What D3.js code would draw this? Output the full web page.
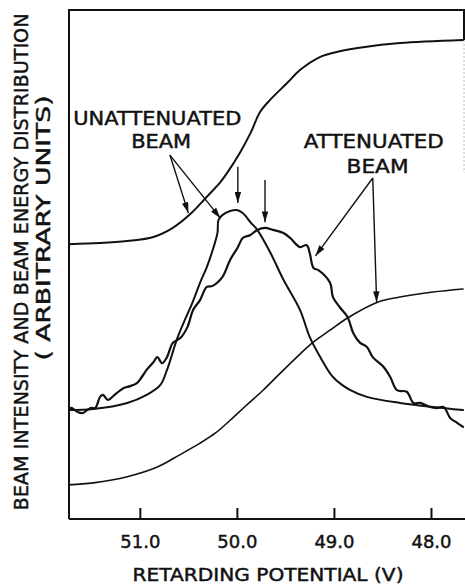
<!DOCTYPE html>
<html>
<head>
<meta charset="utf-8">
<script src="https://cdn.jsdelivr.net/npm/d3@7/dist/d3.min.js"></script>
<style>
  html, body { margin: 0; padding: 0; background: #fff; }
  svg { display: block; }
  text { font-family: "DejaVu Sans", "Liberation Sans", sans-serif; fill: #111; stroke: #111; stroke-width: 0.45px; }
</style>
</head>
<body>
<div id="chart"></div>
<script>
// retarding potential (V) vs. arbitrary units
const xTicks = [51.0, 50.0, 49.0, 48.0];
const xDomain = [51.73, 47.67];
const yDomain = [0, 100];

// integrated beam intensity, unattenuated (upper step)
const unattIntegral = [
  [51.73, 54.0], [51.41, 54.2], [51.13, 54.6], [50.86, 55.4], [50.66, 57.2], [50.48, 59.9],
  [50.31, 63.3], [50.17, 66.2], [50.10, 68.0], [49.97, 71.9], [49.86, 75.8], [49.76, 80.0],
  [49.66, 82.3], [49.48, 85.7], [49.35, 88.2], [49.14, 90.8], [48.94, 91.9], [48.70, 92.7],
  [48.32, 93.5], [47.67, 94.1],
];

// energy distribution, unattenuated (smooth peak)
const unattDist = [
  [51.73, 21.4], [51.48, 21.6], [51.13, 22.8], [50.93, 24.4], [50.79, 26.3], [50.72, 29.3],
  [50.62, 35.2], [50.55, 38.5], [50.46, 42.4], [50.38, 46.4], [50.31, 49.5], [50.25, 52.8],
  [50.20, 56.2], [50.19, 58.7], [50.15, 59.7], [50.07, 60.5], [50.00, 60.7], [49.94, 60.1],
  [49.86, 58.3], [49.79, 56.8], [49.66, 52.5], [49.52, 47.0], [49.35, 41.1], [49.25, 35.8],
  [49.14, 31.8], [49.01, 27.9], [48.83, 25.3], [48.66, 24.0], [48.32, 22.8], [47.98, 22.0],
  [47.67, 21.4],
];

// energy distribution, attenuated (noisy trace)
const attDist = [
  [51.73, 21.8], [51.70, 21.8], [51.64, 21.0], [51.59, 20.8], [51.51, 21.8], [51.46, 21.8],
  [51.41, 24.0], [51.38, 24.4], [51.33, 23.4], [51.26, 24.4], [51.17, 25.7], [51.10, 26.1],
  [51.03, 26.7], [50.98, 27.9], [50.93, 29.3], [50.86, 30.8], [50.82, 31.8], [50.77, 30.6],
  [50.72, 31.8], [50.66, 34.6], [50.58, 35.6], [50.51, 37.7], [50.45, 41.1], [50.38, 43.0],
  [50.31, 45.6], [50.25, 45.8], [50.15, 47.5], [50.07, 50.9], [49.99, 53.4], [49.94, 55.2],
  [49.86, 55.8], [49.79, 56.8], [49.71, 57.2], [49.63, 56.8], [49.52, 56.2], [49.45, 55.2],
  [49.38, 53.8], [49.35, 53.4], [49.28, 53.8], [49.25, 52.3], [49.21, 49.3], [49.16, 48.9],
  [49.04, 46.4], [49.01, 43.6], [48.94, 41.6], [48.86, 39.7], [48.80, 36.5], [48.73, 34.6],
  [48.66, 33.8], [48.60, 31.8], [48.49, 29.9], [48.42, 27.9], [48.35, 25.3], [48.25, 25.0],
  [48.18, 22.8], [48.11, 22.8], [48.01, 22.0], [47.94, 21.8], [47.87, 22.0], [47.80, 19.8],
  [47.73, 18.9], [47.67, 18.1],
];

// integrated beam intensity, attenuated (lower step)
const attIntegral = [
  [51.73, 6.7], [51.48, 7.1], [51.13, 8.3], [50.82, 10.2], [50.59, 12.6], [50.38, 14.9],
  [50.22, 16.9], [50.07, 19.4], [49.91, 22.2], [49.73, 25.3], [49.55, 28.7], [49.35, 32.4],
  [49.21, 34.8], [49.04, 37.1], [48.86, 39.5], [48.55, 42.6], [48.32, 43.6], [47.98, 44.6],
  [47.67, 45.2],
];

// annotation arrows: [fromV, fromY, toV, toY]
const arrows = [
  [50.69, 71.5, 50.50, 60.1],
  [50.69, 71.5, 50.17, 59.1],
  [49.99, 69.2, 49.99, 62.1],
  [49.71, 66.6, 49.71, 58.3],
  [48.60, 67.0, 49.19, 51.7],
  [48.60, 67.0, 48.56, 42.6],
];
// annotation labels: [text, centreV, baselineY, width]
const labels = [
  ['UNATTENUATED', 50.82, 77.4, 168],
  ['BEAM', 50.78, 72.9, 60],
  ['ATTENUATED', 48.59, 72.9, 140],
  ['BEAM', 48.55, 68.0, 62],
];

const W = 465, H = 585;
const plotL = 69, plotR = 463, plotT = 10, plotB = 519;

const svg = d3.select('#chart').append('svg').attr('width', W).attr('height', H);
const x = d3.scaleLinear(xDomain, [plotL, plotR]);
const y = d3.scaleLinear(yDomain, [plotB, plotT]);

svg.append('defs').append('marker')
  .attr('id', 'head').attr('markerUnits', 'userSpaceOnUse')
  .attr('viewBox', '0 0 10 6').attr('refX', 10).attr('refY', 3)
  .attr('markerWidth', 11).attr('markerHeight', 6.5).attr('orient', 'auto')
  .append('path').attr('d', 'M0,0 L10,3 L0,6 Z').attr('fill', '#111');

// frame (right side is cut off in the source, only a stub shows)
const frame = svg.append('g').attr('stroke', '#111').attr('stroke-width', 2).attr('fill', 'none');
frame.append('path').attr('d', `M${plotL},${plotB} V${plotT} H${W}`);
frame.append('path').attr('d', `M${plotR + 1},${plotT} V${y(94.1)}`);
frame.append('path').attr('d', `M${plotR + 1},${y(94.1)} V${y(68)}`).attr('stroke', '#bbb').attr('stroke-width', 1).attr('stroke-dasharray', '2,2');

const xAxis = svg.append('g').attr('transform', `translate(0,${plotB})`)
  .call(d3.axisBottom(x).tickValues(xTicks).tickFormat(d3.format('.1f'))
    .tickSizeInner(-11).tickSizeOuter(0).tickPadding(16));
xAxis.select('.domain').attr('d', `M${plotL},0 H${W}`).attr('stroke', '#111').attr('stroke-width', 2);
xAxis.selectAll('.tick line').attr('stroke', '#111').attr('stroke-width', 2);
xAxis.selectAll('.tick text').attr('font-size', 18).attr('font-family', '"DejaVu Sans", sans-serif').attr('fill', '#111');

const line = d3.line().x((d) => x(d[0])).y((d) => y(d[1])).curve(d3.curveCatmullRom.alpha(0.5));
const curves = svg.append('g').attr('fill', 'none').attr('stroke', '#111')
  .attr('stroke-linejoin', 'round').attr('stroke-linecap', 'round');
curves.append('path').datum(unattIntegral).attr('d', line).attr('stroke-width', 2);
curves.append('path').datum(unattDist).attr('d', line).attr('stroke-width', 2);
curves.append('path').datum(attDist).attr('d', line).attr('stroke-width', 2.2);
curves.append('path').datum(attIntegral).attr('d', line).attr('stroke-width', 1.6);

svg.append('g').selectAll('line').data(arrows).join('line')
  .attr('x1', (d) => x(d[0])).attr('y1', (d) => y(d[1]))
  .attr('x2', (d) => x(d[2])).attr('y2', (d) => y(d[3]))
  .attr('stroke', '#111').attr('stroke-width', 1.4).attr('marker-end', 'url(#head)');

svg.append('g').selectAll('text').data(labels).join('text')
  .attr('x', (d) => x(d[1])).attr('y', (d) => y(d[2]))
  .attr('text-anchor', 'middle').attr('font-size', 19)
  .attr('textLength', (d) => d[3]).attr('lengthAdjust', 'spacingAndGlyphs')
  .text((d) => d[0]);

svg.append('text').attr('x', (plotL + plotR) / 2 + 2).attr('y', 581)
  .attr('text-anchor', 'middle').attr('font-size', 17)
  .attr('textLength', 271).attr('lengthAdjust', 'spacingAndGlyphs')
  .text('RETARDING POTENTIAL (V)');

svg.append('text').attr('transform', 'translate(28,262) rotate(-90)')
  .attr('text-anchor', 'middle').attr('font-size', 19)
  .attr('textLength', 497).attr('lengthAdjust', 'spacingAndGlyphs')
  .text('BEAM INTENSITY AND BEAM ENERGY DISTRIBUTION');
svg.append('text').attr('transform', 'translate(50,228) rotate(-90)')
  .attr('text-anchor', 'middle').attr('font-size', 19)
  .attr('textLength', 265).attr('lengthAdjust', 'spacingAndGlyphs')
  .text('( ARBITRARY UNITS)');
</script>
</body>
</html>
